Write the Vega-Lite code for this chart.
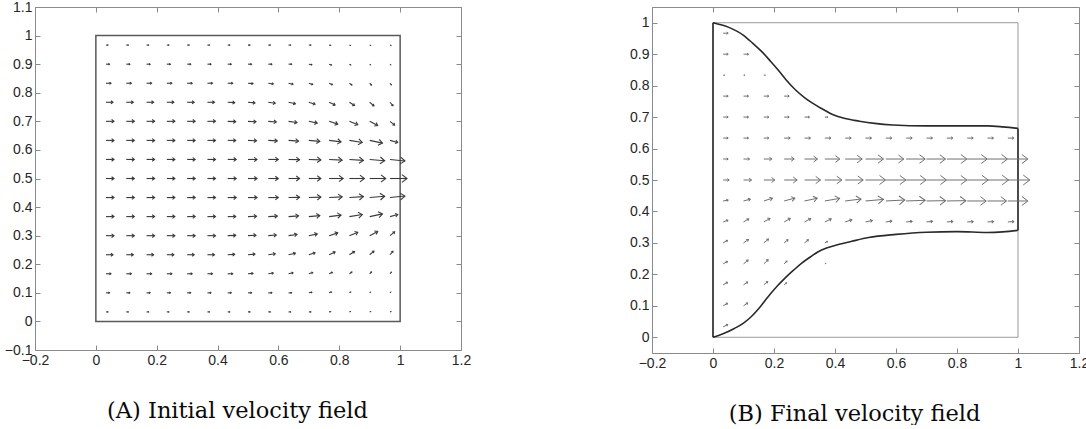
{
  "$schema": "https://vega.github.io/schema/vega-lite/v6.json",
  "background": "white",
  "padding": {"left": 4, "top": 0, "right": 0, "bottom": 0},
  "datasets": {
    "A": [
      {"x":0.0333,"y":0.9667,"s":2,"d":0},{"x":0.1,"y":0.9667,"s":2,"d":0},{"x":0.1667,"y":0.9667,"s":2,"d":0},{"x":0.2333,"y":0.9667,"s":2,"d":0},{"x":0.3,"y":0.9667,"s":2,"d":0},{"x":0.3667,"y":0.9667,"s":2,"d":0},{"x":0.4333,"y":0.9667,"s":2,"d":0},{"x":0.5,"y":0.9667,"s":2,"d":0},{"x":0.5667,"y":0.9667,"s":2,"d":0},{"x":0.6333,"y":0.9667,"s":2,"d":0},{"x":0.7,"y":0.9667,"s":2,"d":0},{"x":0.7667,"y":0.9667,"s":1.5,"d":-10},{"x":0.8333,"y":0.9667,"s":1,"d":-20},{"x":0.9,"y":0.9667,"s":1,"d":-20},{"x":0.9667,"y":0.9667,"s":1,"d":-20},
      {"x":0.0333,"y":0.9,"s":3.5,"d":0},{"x":0.1,"y":0.9,"s":3.5,"d":0},{"x":0.1667,"y":0.9,"s":3.5,"d":0},{"x":0.2333,"y":0.9,"s":3.5,"d":0},{"x":0.3,"y":0.9,"s":3.5,"d":0},{"x":0.3667,"y":0.9,"s":3.5,"d":0},{"x":0.4333,"y":0.9,"s":3.5,"d":0},{"x":0.5,"y":0.9,"s":3.5,"d":0},{"x":0.5667,"y":0.9,"s":3.5,"d":0},{"x":0.6333,"y":0.9,"s":3,"d":0},{"x":0.7,"y":0.9,"s":3,"d":-10},{"x":0.7667,"y":0.9,"s":2.5,"d":-20},{"x":0.8333,"y":0.9,"s":1.5,"d":-30},{"x":0.9,"y":0.9,"s":1,"d":-40},{"x":0.9667,"y":0.9,"s":1,"d":-45},
      {"x":0.0333,"y":0.8333,"s":5,"d":0},{"x":0.1,"y":0.8333,"s":5,"d":0},{"x":0.1667,"y":0.8333,"s":5,"d":0},{"x":0.2333,"y":0.8333,"s":5,"d":0},{"x":0.3,"y":0.8333,"s":5,"d":0},{"x":0.3667,"y":0.8333,"s":5,"d":0},{"x":0.4333,"y":0.8333,"s":5,"d":0},{"x":0.5,"y":0.8333,"s":5,"d":-5},{"x":0.5667,"y":0.8333,"s":5,"d":-8},{"x":0.6333,"y":0.8333,"s":4.5,"d":-12},{"x":0.7,"y":0.8333,"s":4,"d":-18},{"x":0.7667,"y":0.8333,"s":3.5,"d":-25},{"x":0.8333,"y":0.8333,"s":3,"d":-35},{"x":0.9,"y":0.8333,"s":2.5,"d":-45},{"x":0.9667,"y":0.8333,"s":2,"d":-50},
      {"x":0.0333,"y":0.7667,"s":7,"d":0},{"x":0.1,"y":0.7667,"s":7,"d":0},{"x":0.1667,"y":0.7667,"s":7,"d":0},{"x":0.2333,"y":0.7667,"s":7,"d":0},{"x":0.3,"y":0.7667,"s":7,"d":0},{"x":0.3667,"y":0.7667,"s":7,"d":0},{"x":0.4333,"y":0.7667,"s":7,"d":-3},{"x":0.5,"y":0.7667,"s":7,"d":-5},{"x":0.5667,"y":0.7667,"s":7,"d":-8},{"x":0.6333,"y":0.7667,"s":7,"d":-12},{"x":0.7,"y":0.7667,"s":6.5,"d":-18},{"x":0.7667,"y":0.7667,"s":6.5,"d":-25},{"x":0.8333,"y":0.7667,"s":6,"d":-32},{"x":0.9,"y":0.7667,"s":5.5,"d":-40},{"x":0.9667,"y":0.7667,"s":4.5,"d":-50},
      {"x":0.0333,"y":0.7,"s":8,"d":0},{"x":0.1,"y":0.7,"s":8,"d":0},{"x":0.1667,"y":0.7,"s":8,"d":0},{"x":0.2333,"y":0.7,"s":8,"d":0},{"x":0.3,"y":0.7,"s":8,"d":0},{"x":0.3667,"y":0.7,"s":8,"d":0},{"x":0.4333,"y":0.7,"s":8,"d":-2},{"x":0.5,"y":0.7,"s":8,"d":-3},{"x":0.5667,"y":0.7,"s":8,"d":-5},{"x":0.6333,"y":0.7,"s":8.5,"d":-8},{"x":0.7,"y":0.7,"s":8.5,"d":-12},{"x":0.7667,"y":0.7,"s":9,"d":-18},{"x":0.8333,"y":0.7,"s":9,"d":-22},{"x":0.9,"y":0.7,"s":9,"d":-28},{"x":0.9667,"y":0.7,"s":6,"d":-40},
      {"x":0.0333,"y":0.6333,"s":8,"d":0},{"x":0.1,"y":0.6333,"s":8,"d":0},{"x":0.1667,"y":0.6333,"s":8,"d":0},{"x":0.2333,"y":0.6333,"s":8,"d":0},{"x":0.3,"y":0.6333,"s":8,"d":0},{"x":0.3667,"y":0.6333,"s":8,"d":0},{"x":0.4333,"y":0.6333,"s":8,"d":0},{"x":0.5,"y":0.6333,"s":8.5,"d":-2},{"x":0.5667,"y":0.6333,"s":9,"d":-3},{"x":0.6333,"y":0.6333,"s":10,"d":-4},{"x":0.7,"y":0.6333,"s":11,"d":-5},{"x":0.7667,"y":0.6333,"s":12,"d":-7},{"x":0.8333,"y":0.6333,"s":13,"d":-9},{"x":0.9,"y":0.6333,"s":13,"d":-12},{"x":0.9667,"y":0.6333,"s":8,"d":-15},
      {"x":0.0333,"y":0.5667,"s":8,"d":0},{"x":0.1,"y":0.5667,"s":8,"d":0},{"x":0.1667,"y":0.5667,"s":8,"d":0},{"x":0.2333,"y":0.5667,"s":8,"d":0},{"x":0.3,"y":0.5667,"s":8,"d":0},{"x":0.3667,"y":0.5667,"s":8,"d":0},{"x":0.4333,"y":0.5667,"s":8.5,"d":0},{"x":0.5,"y":0.5667,"s":9,"d":0},{"x":0.5667,"y":0.5667,"s":10,"d":0},{"x":0.6333,"y":0.5667,"s":11,"d":-1},{"x":0.7,"y":0.5667,"s":12,"d":-2},{"x":0.7667,"y":0.5667,"s":13,"d":-3},{"x":0.8333,"y":0.5667,"s":14,"d":-4},{"x":0.9,"y":0.5667,"s":15,"d":-5},{"x":0.9667,"y":0.5667,"s":15,"d":-6},
      {"x":0.0333,"y":0.5,"s":8,"d":0},{"x":0.1,"y":0.5,"s":8,"d":0},{"x":0.1667,"y":0.5,"s":8,"d":0},{"x":0.2333,"y":0.5,"s":8,"d":0},{"x":0.3,"y":0.5,"s":8,"d":0},{"x":0.3667,"y":0.5,"s":8,"d":0},{"x":0.4333,"y":0.5,"s":8.5,"d":0},{"x":0.5,"y":0.5,"s":9,"d":0},{"x":0.5667,"y":0.5,"s":10,"d":0},{"x":0.6333,"y":0.5,"s":11,"d":0},{"x":0.7,"y":0.5,"s":12,"d":0},{"x":0.7667,"y":0.5,"s":14,"d":0},{"x":0.8333,"y":0.5,"s":15,"d":0},{"x":0.9,"y":0.5,"s":16,"d":0},{"x":0.9667,"y":0.5,"s":17,"d":0},
      {"x":0.0333,"y":0.4333,"s":8,"d":0},{"x":0.1,"y":0.4333,"s":8,"d":0},{"x":0.1667,"y":0.4333,"s":8,"d":0},{"x":0.2333,"y":0.4333,"s":8,"d":0},{"x":0.3,"y":0.4333,"s":8,"d":0},{"x":0.3667,"y":0.4333,"s":8,"d":0},{"x":0.4333,"y":0.4333,"s":8.5,"d":0},{"x":0.5,"y":0.4333,"s":9,"d":0},{"x":0.5667,"y":0.4333,"s":10,"d":0},{"x":0.6333,"y":0.4333,"s":11,"d":1},{"x":0.7,"y":0.4333,"s":12,"d":2},{"x":0.7667,"y":0.4333,"s":13,"d":3},{"x":0.8333,"y":0.4333,"s":14,"d":4},{"x":0.9,"y":0.4333,"s":15,"d":5},{"x":0.9667,"y":0.4333,"s":15,"d":6},
      {"x":0.0333,"y":0.3667,"s":8,"d":0},{"x":0.1,"y":0.3667,"s":8,"d":0},{"x":0.1667,"y":0.3667,"s":8,"d":0},{"x":0.2333,"y":0.3667,"s":8,"d":0},{"x":0.3,"y":0.3667,"s":8,"d":0},{"x":0.3667,"y":0.3667,"s":8,"d":0},{"x":0.4333,"y":0.3667,"s":8,"d":0},{"x":0.5,"y":0.3667,"s":8.5,"d":2},{"x":0.5667,"y":0.3667,"s":9,"d":3},{"x":0.6333,"y":0.3667,"s":10,"d":4},{"x":0.7,"y":0.3667,"s":11,"d":5},{"x":0.7667,"y":0.3667,"s":12,"d":7},{"x":0.8333,"y":0.3667,"s":13,"d":9},{"x":0.9,"y":0.3667,"s":13,"d":12},{"x":0.9667,"y":0.3667,"s":8,"d":15},
      {"x":0.0333,"y":0.3,"s":8,"d":0},{"x":0.1,"y":0.3,"s":8,"d":0},{"x":0.1667,"y":0.3,"s":8,"d":0},{"x":0.2333,"y":0.3,"s":8,"d":0},{"x":0.3,"y":0.3,"s":8,"d":0},{"x":0.3667,"y":0.3,"s":8,"d":0},{"x":0.4333,"y":0.3,"s":8,"d":2},{"x":0.5,"y":0.3,"s":8,"d":3},{"x":0.5667,"y":0.3,"s":8,"d":5},{"x":0.6333,"y":0.3,"s":8.5,"d":8},{"x":0.7,"y":0.3,"s":8.5,"d":12},{"x":0.7667,"y":0.3,"s":9,"d":18},{"x":0.8333,"y":0.3,"s":9,"d":22},{"x":0.9,"y":0.3,"s":9,"d":28},{"x":0.9667,"y":0.3,"s":6,"d":40},
      {"x":0.0333,"y":0.2333,"s":7,"d":0},{"x":0.1,"y":0.2333,"s":7,"d":0},{"x":0.1667,"y":0.2333,"s":7,"d":0},{"x":0.2333,"y":0.2333,"s":7,"d":0},{"x":0.3,"y":0.2333,"s":7,"d":0},{"x":0.3667,"y":0.2333,"s":7,"d":0},{"x":0.4333,"y":0.2333,"s":7,"d":3},{"x":0.5,"y":0.2333,"s":7,"d":5},{"x":0.5667,"y":0.2333,"s":7,"d":8},{"x":0.6333,"y":0.2333,"s":7,"d":12},{"x":0.7,"y":0.2333,"s":6.5,"d":18},{"x":0.7667,"y":0.2333,"s":6.5,"d":25},{"x":0.8333,"y":0.2333,"s":6,"d":32},{"x":0.9,"y":0.2333,"s":5.5,"d":40},{"x":0.9667,"y":0.2333,"s":4.5,"d":50},
      {"x":0.0333,"y":0.1667,"s":5,"d":0},{"x":0.1,"y":0.1667,"s":5,"d":0},{"x":0.1667,"y":0.1667,"s":5,"d":0},{"x":0.2333,"y":0.1667,"s":5,"d":0},{"x":0.3,"y":0.1667,"s":5,"d":0},{"x":0.3667,"y":0.1667,"s":5,"d":0},{"x":0.4333,"y":0.1667,"s":5,"d":0},{"x":0.5,"y":0.1667,"s":5,"d":5},{"x":0.5667,"y":0.1667,"s":5,"d":8},{"x":0.6333,"y":0.1667,"s":4.5,"d":12},{"x":0.7,"y":0.1667,"s":4,"d":18},{"x":0.7667,"y":0.1667,"s":3.5,"d":25},{"x":0.8333,"y":0.1667,"s":3,"d":35},{"x":0.9,"y":0.1667,"s":2.5,"d":45},{"x":0.9667,"y":0.1667,"s":2,"d":50},
      {"x":0.0333,"y":0.1,"s":3.5,"d":0},{"x":0.1,"y":0.1,"s":3.5,"d":0},{"x":0.1667,"y":0.1,"s":3.5,"d":0},{"x":0.2333,"y":0.1,"s":3.5,"d":0},{"x":0.3,"y":0.1,"s":3.5,"d":0},{"x":0.3667,"y":0.1,"s":3.5,"d":0},{"x":0.4333,"y":0.1,"s":3.5,"d":0},{"x":0.5,"y":0.1,"s":3.5,"d":0},{"x":0.5667,"y":0.1,"s":3.5,"d":0},{"x":0.6333,"y":0.1,"s":3,"d":0},{"x":0.7,"y":0.1,"s":3,"d":10},{"x":0.7667,"y":0.1,"s":2.5,"d":20},{"x":0.8333,"y":0.1,"s":1.5,"d":30},{"x":0.9,"y":0.1,"s":1,"d":40},{"x":0.9667,"y":0.1,"s":1,"d":45},
      {"x":0.0333,"y":0.0333,"s":2,"d":0},{"x":0.1,"y":0.0333,"s":2,"d":0},{"x":0.1667,"y":0.0333,"s":2,"d":0},{"x":0.2333,"y":0.0333,"s":2,"d":0},{"x":0.3,"y":0.0333,"s":2,"d":0},{"x":0.3667,"y":0.0333,"s":2,"d":0},{"x":0.4333,"y":0.0333,"s":2,"d":0},{"x":0.5,"y":0.0333,"s":2,"d":0},{"x":0.5667,"y":0.0333,"s":2,"d":0},{"x":0.6333,"y":0.0333,"s":2,"d":0},{"x":0.7,"y":0.0333,"s":2,"d":0},{"x":0.7667,"y":0.0333,"s":1.5,"d":10},{"x":0.8333,"y":0.0333,"s":1,"d":20},{"x":0.9,"y":0.0333,"s":1,"d":20},{"x":0.9667,"y":0.0333,"s":1,"d":20}
    ],
    "B": [
      {"x":0.0333,"y":0.9667,"s":5,"d":0},
      {"x":0.0333,"y":0.9,"s":5,"d":0},{"x":0.1,"y":0.9,"s":5,"d":0},
      {"x":0.0333,"y":0.8333,"s":1.5,"d":0},{"x":0.1,"y":0.8333,"s":1.5,"d":0},{"x":0.1667,"y":0.8333,"s":1.5,"d":0},
      {"x":0.0333,"y":0.7667,"s":5,"d":0},{"x":0.1,"y":0.7667,"s":5,"d":0},{"x":0.1667,"y":0.7667,"s":5,"d":0},{"x":0.2333,"y":0.7667,"s":5,"d":0},
      {"x":0.0333,"y":0.7,"s":5,"d":0},{"x":0.1,"y":0.7,"s":5,"d":0},{"x":0.1667,"y":0.7,"s":5,"d":0},{"x":0.2333,"y":0.7,"s":5,"d":0},{"x":0.3,"y":0.7,"s":5,"d":0},{"x":0.3667,"y":0.7,"s":3,"d":0},
      {"x":0.0333,"y":0.6333,"s":5,"d":0},{"x":0.1,"y":0.6333,"s":5,"d":0},{"x":0.1667,"y":0.6333,"s":5,"d":0},{"x":0.2333,"y":0.6333,"s":6,"d":0},{"x":0.3,"y":0.6333,"s":6,"d":0},{"x":0.3667,"y":0.6333,"s":6,"d":0},{"x":0.4333,"y":0.6333,"s":6,"d":0},{"x":0.5,"y":0.6333,"s":6,"d":0},{"x":0.5667,"y":0.6333,"s":6,"d":0},{"x":0.6333,"y":0.6333,"s":6,"d":0},{"x":0.7,"y":0.6333,"s":6,"d":0},{"x":0.7667,"y":0.6333,"s":6,"d":0},{"x":0.8333,"y":0.6333,"s":6,"d":0},{"x":0.9,"y":0.6333,"s":6,"d":0},{"x":0.9667,"y":0.6333,"s":6,"d":0},
      {"x":0.0333,"y":0.5667,"s":5,"d":0},{"x":0.1,"y":0.5667,"s":6,"d":0},{"x":0.1667,"y":0.5667,"s":8,"d":0},{"x":0.2333,"y":0.5667,"s":10,"d":0},{"x":0.3,"y":0.5667,"s":13,"d":0},{"x":0.3667,"y":0.5667,"s":15,"d":0},{"x":0.4333,"y":0.5667,"s":17,"d":0},{"x":0.5,"y":0.5667,"s":18,"d":0},{"x":0.5667,"y":0.5667,"s":18,"d":0},{"x":0.6333,"y":0.5667,"s":19,"d":0},{"x":0.7,"y":0.5667,"s":19,"d":0},{"x":0.7667,"y":0.5667,"s":20,"d":0},{"x":0.8333,"y":0.5667,"s":20,"d":0},{"x":0.9,"y":0.5667,"s":20,"d":0},{"x":0.9667,"y":0.5667,"s":20,"d":0},
      {"x":0.0333,"y":0.5,"s":6,"d":0},{"x":0.1,"y":0.5,"s":8,"d":0},{"x":0.1667,"y":0.5,"s":11,"d":0},{"x":0.2333,"y":0.5,"s":13,"d":0},{"x":0.3,"y":0.5,"s":16,"d":0},{"x":0.3667,"y":0.5,"s":17,"d":0},{"x":0.4333,"y":0.5,"s":18,"d":0},{"x":0.5,"y":0.5,"s":20,"d":0},{"x":0.5667,"y":0.5,"s":20,"d":0},{"x":0.6333,"y":0.5,"s":20,"d":0},{"x":0.7,"y":0.5,"s":20,"d":0},{"x":0.7667,"y":0.5,"s":20,"d":0},{"x":0.8333,"y":0.5,"s":21,"d":0},{"x":0.9,"y":0.5,"s":21,"d":0},{"x":0.9667,"y":0.5,"s":22,"d":0},
      {"x":0.0333,"y":0.4333,"s":5,"d":10},{"x":0.1,"y":0.4333,"s":7,"d":15},{"x":0.1667,"y":0.4333,"s":9,"d":18},{"x":0.2333,"y":0.4333,"s":11,"d":15},{"x":0.3,"y":0.4333,"s":13,"d":12},{"x":0.3667,"y":0.4333,"s":15,"d":10},{"x":0.4333,"y":0.4333,"s":16,"d":7},{"x":0.5,"y":0.4333,"s":18,"d":5},{"x":0.5667,"y":0.4333,"s":19,"d":3},{"x":0.6333,"y":0.4333,"s":19,"d":2},{"x":0.7,"y":0.4333,"s":19,"d":1},{"x":0.7667,"y":0.4333,"s":19,"d":1},{"x":0.8333,"y":0.4333,"s":19,"d":0},{"x":0.9,"y":0.4333,"s":19,"d":0},{"x":0.9667,"y":0.4333,"s":20,"d":0},
      {"x":0.0333,"y":0.3667,"s":5,"d":20},{"x":0.1,"y":0.3667,"s":6,"d":30},{"x":0.1667,"y":0.3667,"s":7,"d":30},{"x":0.2333,"y":0.3667,"s":7,"d":30},{"x":0.3,"y":0.3667,"s":7,"d":28},{"x":0.3667,"y":0.3667,"s":7,"d":25},{"x":0.4333,"y":0.3667,"s":7,"d":18},{"x":0.5,"y":0.3667,"s":7,"d":12},{"x":0.5667,"y":0.3667,"s":6,"d":8},{"x":0.6333,"y":0.3667,"s":6,"d":6},{"x":0.7,"y":0.3667,"s":6,"d":5},{"x":0.7667,"y":0.3667,"s":6,"d":4},{"x":0.8333,"y":0.3667,"s":6,"d":3},{"x":0.9,"y":0.3667,"s":6,"d":3},{"x":0.9667,"y":0.3667,"s":6,"d":3},
      {"x":0.0333,"y":0.3,"s":5,"d":30},{"x":0.1,"y":0.3,"s":6,"d":35},{"x":0.1667,"y":0.3,"s":6,"d":40},{"x":0.2333,"y":0.3,"s":5,"d":40},{"x":0.3,"y":0.3,"s":5,"d":40},{"x":0.3667,"y":0.3,"s":3,"d":30},
      {"x":0.0333,"y":0.2333,"s":5,"d":30},{"x":0.1,"y":0.2333,"s":6,"d":40},{"x":0.1667,"y":0.2333,"s":6,"d":45},{"x":0.2333,"y":0.2333,"s":4,"d":45},{"x":0.3667,"y":0.2333,"s":1,"d":30},
      {"x":0.0333,"y":0.1667,"s":5,"d":30},{"x":0.1,"y":0.1667,"s":5,"d":35},{"x":0.1667,"y":0.1667,"s":5,"d":40},{"x":0.2333,"y":0.1667,"s":3,"d":40},
      {"x":0.0333,"y":0.1,"s":5,"d":30},{"x":0.1,"y":0.1,"s":5,"d":35},
      {"x":0.0333,"y":0.0333,"s":5,"d":25}
    ],
    "Bwall": [
      {"seg":"u","x":0,"y":1},{"seg":"u","x":0.05,"y":0.986},{"seg":"u","x":0.1,"y":0.96},{"seg":"u","x":0.13,"y":0.935},{"seg":"u","x":0.16,"y":0.908},{"seg":"u","x":0.19,"y":0.876},{"seg":"u","x":0.215,"y":0.848},{"seg":"u","x":0.24,"y":0.818},{"seg":"u","x":0.27,"y":0.787},{"seg":"u","x":0.3,"y":0.762},{"seg":"u","x":0.325,"y":0.745},{"seg":"u","x":0.36,"y":0.725},{"seg":"u","x":0.39,"y":0.709},{"seg":"u","x":0.43,"y":0.696},{"seg":"u","x":0.48,"y":0.687},{"seg":"u","x":0.53,"y":0.68},{"seg":"u","x":0.59,"y":0.675},{"seg":"u","x":0.7,"y":0.672},{"seg":"u","x":0.8,"y":0.672},{"seg":"u","x":0.9,"y":0.672},{"seg":"u","x":0.95,"y":0.669},{"seg":"u","x":1,"y":0.664},
      {"seg":"l","x":0,"y":0},{"seg":"l","x":0.035,"y":0.012},{"seg":"l","x":0.07,"y":0.028},{"seg":"l","x":0.1,"y":0.045},{"seg":"l","x":0.126,"y":0.066},{"seg":"l","x":0.155,"y":0.097},{"seg":"l","x":0.18,"y":0.128},{"seg":"l","x":0.21,"y":0.162},{"seg":"l","x":0.236,"y":0.188},{"seg":"l","x":0.265,"y":0.214},{"seg":"l","x":0.29,"y":0.235},{"seg":"l","x":0.32,"y":0.256},{"seg":"l","x":0.345,"y":0.272},{"seg":"l","x":0.37,"y":0.283},{"seg":"l","x":0.4,"y":0.292},{"seg":"l","x":0.455,"y":0.305},{"seg":"l","x":0.51,"y":0.317},{"seg":"l","x":0.6,"y":0.327},{"seg":"l","x":0.7,"y":0.334},{"seg":"l","x":0.8,"y":0.336},{"seg":"l","x":0.9,"y":0.333},{"seg":"l","x":0.95,"y":0.335},{"seg":"l","x":1,"y":0.34},
      {"seg":"a","x":0,"y":0},{"seg":"a","x":0,"y":1},
      {"seg":"b","x":1,"y":0.34},{"seg":"b","x":1,"y":0.664}
    ]
  },
  "resolve": {"scale": {"x": "independent", "y": "independent", "size": "independent", "angle": "independent"}},
  "hconcat": [
    {
      "width": 426,
      "height": 343,
      "resolve": {"axis": {"x": "independent", "y": "independent"}},
      "layer": [
        {
          "data": {"values": [{"x0": 0, "x1": 1, "y0": 0, "y1": 1}]},
          "mark": {"type": "rect", "filled": false, "stroke": "#5a5a5a", "strokeWidth": 1.5},
          "encoding": {
            "x": {"field": "x0", "type": "quantitative", "scale": {"domain": [-0.2, 1.2], "nice": false, "zero": false},
                  "axis": {"orient": "bottom", "values": [-0.2, 0, 0.2, 0.4, 0.6, 0.8, 1, 1.2], "format": "~g",
                           "title": "(A) Initial velocity field", "titleFont": "DejaVu Serif", "titleFontSize": 22.5,
                           "titleFontWeight": "normal", "titleColor": "#0a0a0a", "titlePadding": 32, "titleX": 202, "titleAlign": "center"}},
            "x2": {"field": "x1"},
            "y": {"field": "y0", "type": "quantitative", "scale": {"domain": [-0.1, 1.1], "nice": false, "zero": false},
                  "axis": {"orient": "left", "values": [-0.1, 0, 0.1, 0.2, 0.3, 0.4, 0.5, 0.6, 0.7, 0.8, 0.9, 1, 1.1], "format": "~g", "title": null}},
            "y2": {"field": "y1"}
          }
        },
        {
          "data": {"name": "A"},
          "transform": [
            {"calculate": "datum.x + datum.s*cos(datum.d*PI/180)/304.3", "as": "xe"},
            {"calculate": "datum.y + datum.s*sin(datum.d*PI/180)/285.8", "as": "ye"}
          ],
          "mark": {"type": "rule", "stroke": "#3a3a3a", "strokeWidth": 1.1},
          "encoding": {
            "x": {"field": "x", "type": "quantitative", "scale": {"domain": [-0.2, 1.2], "nice": false, "zero": false},
                  "axis": {"orient": "top", "values": [-0.2, 0, 0.2, 0.4, 0.6, 0.8, 1, 1.2], "labels": false, "title": null}},
            "x2": {"field": "xe"},
            "y": {"field": "y", "type": "quantitative", "scale": {"domain": [-0.1, 1.1], "nice": false, "zero": false},
                  "axis": {"orient": "right", "values": [-0.1, 0, 0.1, 0.2, 0.3, 0.4, 0.5, 0.6, 0.7, 0.8, 0.9, 1, 1.1], "labels": false, "title": null}},
            "y2": {"field": "ye"}
          }
        },
        {
          "data": {"name": "A"},
          "transform": [
            {"calculate": "datum.x + datum.s*cos(datum.d*PI/180)/304.3", "as": "xe"},
            {"calculate": "datum.y + datum.s*sin(datum.d*PI/180)/285.8", "as": "ye"}
          ],
          "mark": {"type": "point", "shape": "M-1,-0.75L0,0L-1,0.75", "filled": false, "stroke": "#3a3a3a", "strokeWidth": 1.1, "opacity": 1},
          "encoding": {
            "x": {"field": "xe", "type": "quantitative", "scale": {"domain": [-0.2, 1.2], "nice": false, "zero": false}, "axis": null},
            "y": {"field": "ye", "type": "quantitative", "scale": {"domain": [-0.1, 1.1], "nice": false, "zero": false}, "axis": null},
            "size": {"field": "s", "type": "quantitative", "scale": {"type": "pow", "exponent": 2, "domain": [0, 20], "range": [0, 144]}, "legend": null},
            "angle": {"field": "d", "type": "quantitative", "scale": {"domain": [-90, 90], "range": [90, -90]}, "legend": null}
          }
        }
      ]
    },
    {
      "width": 427,
      "height": 346,
      "resolve": {"axis": {"x": "independent", "y": "independent"}},
      "layer": [
        {
          "data": {"values": [{"x0": 0, "x1": 1, "y0": 0, "y1": 1}]},
          "mark": {"type": "rect", "filled": false, "stroke": "#9a9a9a", "strokeWidth": 1},
          "encoding": {
            "x": {"field": "x0", "type": "quantitative", "scale": {"domain": [-0.2, 1.2], "nice": false, "zero": false},
                  "axis": {"orient": "bottom", "values": [-0.2, 0, 0.2, 0.4, 0.6, 0.8, 1, 1.2], "format": "~g",
                           "title": "(B) Final velocity field", "titleFont": "DejaVu Serif", "titleFontSize": 22.5,
                           "titleFontWeight": "normal", "titleColor": "#0a0a0a", "titlePadding": 32, "titleX": 202, "titleAlign": "center"}},
            "x2": {"field": "x1"},
            "y": {"field": "y0", "type": "quantitative", "scale": {"domain": [-0.05, 1.05], "nice": false, "zero": false},
                  "axis": {"orient": "left", "values": [0, 0.1, 0.2, 0.3, 0.4, 0.5, 0.6, 0.7, 0.8, 0.9, 1], "format": "~g", "title": null}},
            "y2": {"field": "y1"}
          }
        },
        {
          "data": {"name": "Bwall"},
          "mark": {"type": "line", "stroke": "#2a2a2a", "strokeWidth": 1.6, "interpolate": "monotone"},
          "encoding": {
            "x": {"field": "x", "type": "quantitative", "scale": {"domain": [-0.2, 1.2], "nice": false, "zero": false},
                  "axis": {"orient": "top", "values": [-0.2, 0, 0.2, 0.4, 0.6, 0.8, 1, 1.2], "labels": false, "title": null}},
            "y": {"field": "y", "type": "quantitative", "scale": {"domain": [-0.05, 1.05], "nice": false, "zero": false},
                  "axis": {"orient": "right", "values": [0, 0.1, 0.2, 0.3, 0.4, 0.5, 0.6, 0.7, 0.8, 0.9, 1], "labels": false, "title": null}},
            "detail": {"field": "seg", "type": "nominal"}
          }
        },
        {
          "data": {"name": "B"},
          "transform": [
            {"calculate": "datum.x + datum.s*cos(datum.d*PI/180)/304.5", "as": "xe"},
            {"calculate": "datum.y + datum.s*sin(datum.d*PI/180)/314.5", "as": "ye"}
          ],
          "mark": {"type": "rule", "stroke": "#707070", "strokeWidth": 1},
          "encoding": {
            "x": {"field": "x", "type": "quantitative", "scale": {"domain": [-0.2, 1.2], "nice": false, "zero": false}, "axis": null},
            "x2": {"field": "xe"},
            "y": {"field": "y", "type": "quantitative", "scale": {"domain": [-0.05, 1.05], "nice": false, "zero": false}, "axis": null},
            "y2": {"field": "ye"}
          }
        },
        {
          "data": {"name": "B"},
          "transform": [
            {"calculate": "datum.x + datum.s*cos(datum.d*PI/180)/304.5", "as": "xe"},
            {"calculate": "datum.y + datum.s*sin(datum.d*PI/180)/314.5", "as": "ye"}
          ],
          "mark": {"type": "point", "shape": "M-1,-0.75L0,0L-1,0.75", "filled": false, "stroke": "#707070", "strokeWidth": 1, "opacity": 1},
          "encoding": {
            "x": {"field": "xe", "type": "quantitative", "scale": {"domain": [-0.2, 1.2], "nice": false, "zero": false}, "axis": null},
            "y": {"field": "ye", "type": "quantitative", "scale": {"domain": [-0.05, 1.05], "nice": false, "zero": false}, "axis": null},
            "size": {"field": "s", "type": "quantitative", "scale": {"type": "pow", "exponent": 2, "domain": [0, 20], "range": [0, 144]}, "legend": null},
            "angle": {"field": "d", "type": "quantitative", "scale": {"domain": [-90, 90], "range": [90, -90]}, "legend": null}
          }
        }
      ]
    }
  ],
  "config": {
    "view": {"stroke": null},
    "concat": {"spacing": 158},
    "axis": {
      "grid": false,
      "domainColor": "#8a8a8a",
      "domainWidth": 1,
      "tickColor": "#8a8a8a",
      "tickSize": -5,
      "tickWidth": 1,
      "labelFont": "Liberation Sans",
      "labelFontSize": 14,
      "labelColor": "#262626",
      "labelPadding": 8,
      "labelFlush": false,
      "labelOverlap": false
    }
  }
}
